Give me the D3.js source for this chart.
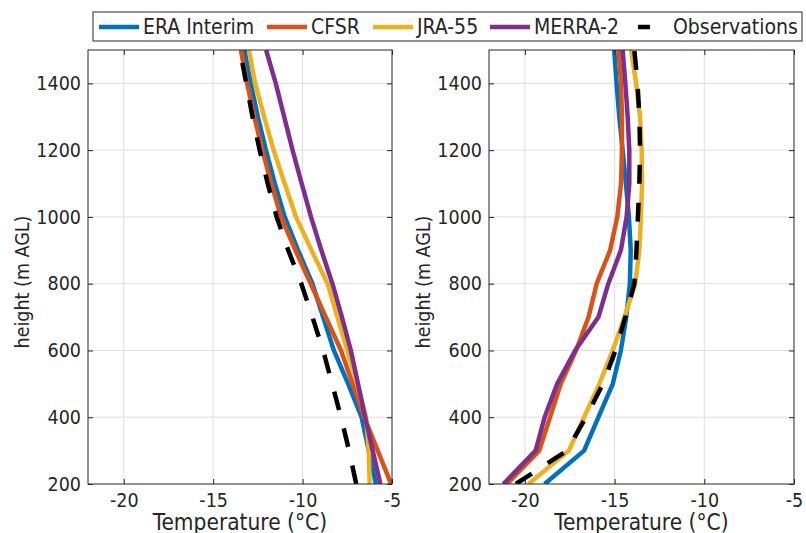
<!DOCTYPE html>
<html>
<head>
<meta charset="utf-8">
<script src="https://cdn.jsdelivr.net/npm/d3@7"></script>
<style>
  body { margin: 0; background: #fff; }
  text { font-family: "DejaVu Sans Condensed", "DejaVu Sans", sans-serif; fill: #262626; }
</style>
</head>
<body>
<svg id="chart" width="806" height="533"></svg>
<script>
// heights (m AGL) shared by every profile
var heights = [200, 300, 400, 500, 600, 700, 800, 900, 1000, 1100, 1200, 1300, 1400, 1500];

var seriesNames = ["ERA Interim", "CFSR", "JRA-55", "MERRA-2", "Observations"];
var seriesColors = ["#0072BD", "#D95319", "#EDB120", "#7E2F8E", "#000000"];

// left panel temperatures (°C), one value per height
var leftEra   = [-5.9, -6.3, -6.7, -7.45, -8.25, -8.85, -9.45, -10.25, -11.0, -11.55, -12.05, -12.5, -12.9, -13.25];
var leftCfsr  = [-5.05, -5.8, -6.55, -7.2, -7.85, -8.7, -9.55, -10.4, -11.2, -11.75, -12.25, -12.7, -13.1, -13.45];
var leftJra   = [-6.25, -6.3, -6.45, -6.95, -7.5, -8.05, -8.6, -9.5, -10.37, -11.0, -11.62, -12.15, -12.65, -13.0];
var leftMerra = [-5.65, -6.08, -6.5, -6.9, -7.3, -7.8, -8.33, -8.95, -9.53, -10.05, -10.56, -11.03, -11.5, -12.04];
var leftObs   = [-7.0, -7.4, -7.85, -8.35, -8.85, -9.45, -10.07, -10.8, -11.45, -11.95, -12.4, -12.8, -13.15, -13.5];

// right panel temperatures (°C)
var rightEra   = [-18.9, -16.7, -15.9, -15.1, -14.65, -14.35, -14.15, -14.1, -14.2, -14.37, -14.55, -14.74, -14.89, -15.02];
var rightCfsr  = [-21.0, -19.2, -18.6, -18.0, -17.15, -16.45, -16.0, -15.25, -14.85, -14.64, -14.59, -14.59, -14.64, -14.78];
var rightJra   = [-19.8, -17.55, -16.7, -15.85, -15.1, -14.45, -13.85, -13.62, -13.53, -13.47, -13.49, -13.58, -13.8, -14.08];
var rightMerra = [-21.2, -19.4, -18.9, -18.2, -17.2, -15.9, -15.35, -14.65, -14.33, -14.18, -14.18, -14.27, -14.4, -14.55];
var rightObs   = [-20.5, -17.65, -16.6, -15.65, -14.95, -14.4, -13.9, -13.78, -13.7, -13.62, -13.58, -13.62, -13.72, -13.9];

var xTicks = [-20, -15, -10, -5];
var yTicks = [200, 400, 600, 800, 1000, 1200, 1400];
var xDomain = [-22, -5];
var yDomain = [200, 1500];

var panels = [
  {left: 88, right: 392, series: [leftEra, leftCfsr, leftJra, leftMerra, leftObs]},
  {left: 489, right: 794, series: [rightEra, rightCfsr, rightJra, rightMerra, rightObs]}
];
var plotTop = 50, plotBottom = 484;
var axisColor = "#262626";

var svg = d3.select("#chart");

panels.forEach(function(p, pi) {
  var x = d3.scaleLinear().domain(xDomain).range([p.left, p.right]);
  var y = d3.scaleLinear().domain(yDomain).range([plotBottom, plotTop]);

  svg.append("clipPath")
      .attr("id", "clip" + pi)
    .append("rect")
      .attr("x", p.left).attr("y", plotTop)
      .attr("width", p.right - p.left).attr("height", plotBottom - plotTop);

  var g = svg.append("g");

  // grid
  g.append("g").selectAll("line")
    .data(xTicks.slice(0, -1))
    .join("line")
      .attr("x1", d => x(d)).attr("x2", d => x(d))
      .attr("y1", plotTop).attr("y2", plotBottom)
      .attr("stroke", "#dedede").attr("stroke-width", 1);
  g.append("g").selectAll("line")
    .data(yTicks.slice(1))
    .join("line")
      .attr("y1", d => y(d)).attr("y2", d => y(d))
      .attr("x1", p.left).attr("x2", p.right)
      .attr("stroke", "#dedede").attr("stroke-width", 1);

  // lines
  var line = d3.line()
      .x(d => x(d[0]))
      .y(d => y(d[1]));

  var lg = g.append("g").attr("clip-path", "url(#clip" + pi + ")");
  p.series.forEach(function(vals, si) {
    lg.append("path")
      .datum(vals.map((v, i) => [v, heights[i]]))
      .attr("fill", "none")
      .attr("stroke", seriesColors[si])
      .attr("stroke-width", 4.5)
      .attr("stroke-linejoin", "round")
      .attr("stroke-dasharray", si == 4 ? "19,19" : null)
      .attr("d", line);
  });

  // axes (ticks inward, box on)
  var xAxis = d3.axisBottom(x).tickValues(xTicks).tickSize(-5).tickSizeOuter(0)
      .tickPadding(9).tickFormat(d => String(d));
  var yAxis = d3.axisLeft(y).tickValues(yTicks).tickSize(-5).tickSizeOuter(0)
      .tickPadding(7).tickFormat(d => String(d));

  var gx = g.append("g").attr("transform", "translate(0," + plotBottom + ")").call(xAxis);
  var gy = g.append("g").attr("transform", "translate(" + p.left + ",0)").call(yAxis);
  [gx, gy].forEach(function(a) {
    a.select(".domain").remove();
    a.selectAll(".tick line").attr("stroke", axisColor);
    a.selectAll(".tick text")
      .attr("fill", axisColor)
      .style("font-size", "19.5px")
      .style("font-family", "'DejaVu Sans Condensed', 'DejaVu Sans', sans-serif");
  });

  // mirror ticks on top and right
  g.append("g").attr("transform", "translate(0," + plotTop + ")")
    .call(d3.axisTop(x).tickValues(xTicks).tickSize(-5).tickSizeOuter(0).tickFormat(""))
    .call(a => a.select(".domain").remove())
    .selectAll(".tick line").attr("stroke", axisColor);
  g.append("g").attr("transform", "translate(" + p.right + ",0)")
    .call(d3.axisRight(y).tickValues(yTicks).tickSize(-5).tickSizeOuter(0).tickFormat(""))
    .call(a => a.select(".domain").remove())
    .selectAll(".tick line").attr("stroke", axisColor);

  // box
  g.append("rect")
    .attr("x", p.left).attr("y", plotTop)
    .attr("width", p.right - p.left).attr("height", plotBottom - plotTop)
    .attr("fill", "none").attr("stroke", axisColor).attr("stroke-width", 1);

  // labels
  g.append("text")
    .attr("x", (p.left + p.right) / 2).attr("y", 530)
    .attr("text-anchor", "middle")
    .style("font-size", "22.5px")
    .text("Temperature (°C)");
  g.append("text")
    .attr("transform", "translate(" + (p.left - 66) + ",282) rotate(-90)")
    .attr("text-anchor", "middle")
    .attr("dy", "0.35em")
    .style("font-size", "19.5px")
    .text("height (m AGL)");
});

// legend
var legendX = [99, 267, 373, 490, 626];
var legend = svg.append("g");
legend.append("rect")
  .attr("x", 93).attr("y", 12).attr("width", 709).attr("height", 29)
  .attr("fill", "#fff").attr("stroke", axisColor).attr("stroke-width", 1);

var items = legend.selectAll("g.item")
  .data(seriesNames)
  .join("g")
    .attr("class", "item")
    .attr("transform", (d, i) => "translate(" + legendX[i] + ",27)");
items.append("line")
  .attr("x1", 0).attr("x2", 40)
  .attr("stroke", (d, i) => seriesColors[i])
  .attr("stroke-width", 4.5)
  .attr("stroke-dasharray", (d, i) => i == 4 ? "0,12,12,16" : null);
items.append("text")
  .attr("x", (d, i) => i == 4 ? 47 : 44)
  .attr("dy", "0.35em")
  .style("font-size", "21px")
  .text(d => d);
</script>
</body>
</html>
